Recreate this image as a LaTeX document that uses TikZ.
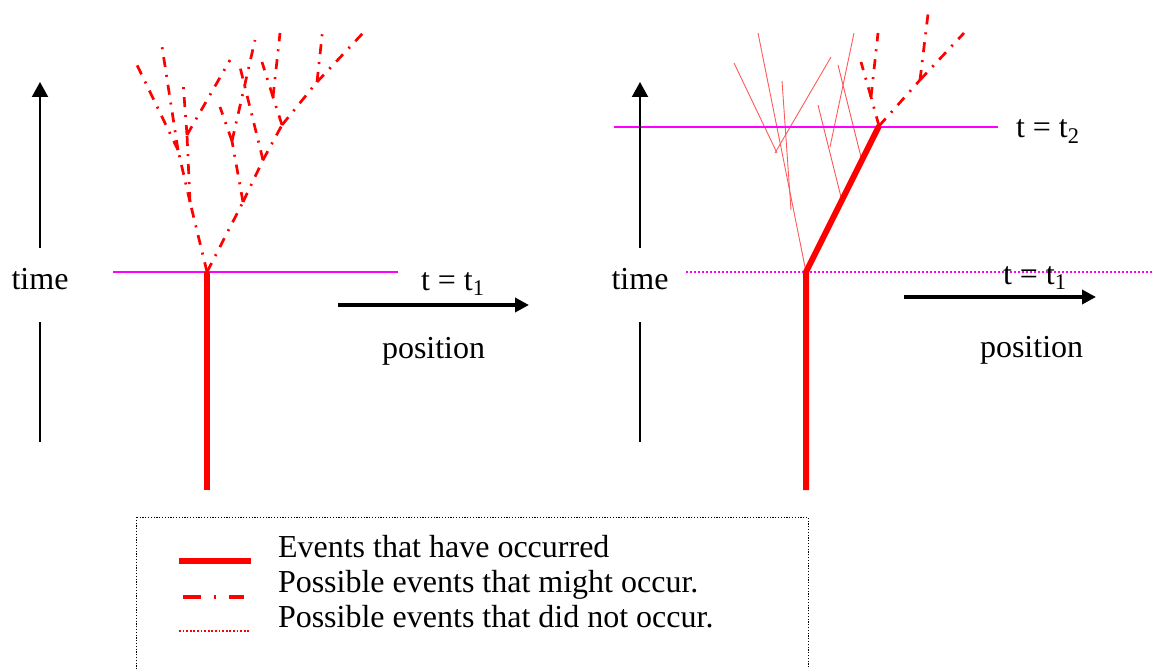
\documentclass[tikz,border=0pt]{standalone}
\usepackage{fontspec}
\setmainfont{Liberation Serif}
\usetikzlibrary{arrows.meta}
\definecolor{pureMagenta}{RGB}{255,0,255}
\definecolor{pureRed}{RGB}{255,0,0}
\begin{document}
\begin{tikzpicture}[x=0.5pt,y=-0.5pt,
  lbl/.style={inner sep=0pt, outer sep=0pt, font=\fontsize{16}{19}\selectfont},
  occurred/.style={draw=pureRed, line width=3pt},
  might/.style={draw=pureRed, line width=1.35pt, dash pattern=on 5pt off 4pt on 1pt off 4pt},
  mightlegend/.style={draw=pureRed, line width=1.7pt, dash pattern=on 9pt off 6.5pt on 1pt off 6.5pt},
  notocc/.style={draw=pureRed!65, line width=0.45pt},
  notocclegend/.style={draw=pureRed, line width=0.8pt, dash pattern=on 0.9pt off 0.9pt},
  axisline/.style={draw=black, line width=1pt},
  axisarrow/.style={draw=black, line width=1pt, -{Triangle[length=7.5pt,width=8pt]}},
  posarrow/.style={draw=black, line width=2pt, -{Triangle[length=7pt,width=7pt]}},
  nowline/.style={draw=pureMagenta, line width=1pt},
  pastline/.style={draw=pureMagenta, line width=0.9pt, dash pattern=on 1pt off 1pt},
  legbox/.style={draw=black, line width=0.5pt, dash pattern=on 0.6pt off 0.8pt},
]
\useasboundingbox (0,0) rectangle (1154,668);

% ---------- left diagram ----------
\coordinate (N1) at (113,272);
\coordinate (N2) at (398,272);
\draw[nowline] (N1) -- (N2);

\coordinate (R) at (207,272);
\coordinate (Rb) at (207,490);
\coordinate (Jc) at (190,202);
\coordinate (Ja) at (178,150);
\coordinate (Ja1) at (137,65);
\coordinate (Ja2) at (161,40);
\coordinate (Jb) at (187,135);
\coordinate (Jb1) at (183,82);
\coordinate (Jb2) at (230,60);
\coordinate (K1) at (243,202);
\coordinate (V) at (232,141);
\coordinate (V1) at (220,107);
\coordinate (V2) at (255,40);
\coordinate (K2) at (263,160);
\coordinate (K21) at (240,67);
\coordinate (K3) at (282,125);
\coordinate (K4) at (273,97);
\coordinate (K41) at (262,62);
\coordinate (K42) at (280,33);
\coordinate (K5) at (317,82);
\coordinate (K51) at (323,27);
\coordinate (K52) at (363,33);

\foreach \a/\b in {R/Jc, Jc/Ja, Ja/Ja1, Ja/Ja2, Jc/Jb, Jb/Jb1, Jb/Jb2,
                   R/K1, K1/V, V/V1, V/V2, K1/K2, K2/K21, K2/K3,
                   K3/K4, K4/K41, K4/K42, K3/K5, K5/K51, K5/K52}
  \draw[might] (\a) -- (\b);

\draw[occurred] (Rb) -- (R);

\coordinate (TA1) at (40,248);
\coordinate (TA2) at (40,82);
\coordinate (TB1) at (40,322);
\coordinate (TB2) at (40,442);
\draw[axisarrow] (TA1) -- (TA2);
\draw[axisline] (TB1) -- (TB2);
\node[lbl, anchor=base] (time1) at (40,289) {time};

\coordinate (PA1) at (338,305);
\coordinate (PA2) at (529,305);
\draw[posarrow] (PA1) -- (PA2);
\node[lbl, anchor=base west] (tt1a) at (421,290) {t = t\textsubscript{1}};
\node[lbl, anchor=base west] (pos1) at (382,358) {position};

% ---------- right diagram ----------
\coordinate (S) at (806,272);
\coordinate (Sb) at (806,490);
\coordinate (T) at (879,126);

\coordinate (A1) at (758,33);
\coordinate (B1) at (734,63);
\coordinate (B2) at (777,153);
\coordinate (C1) at (831,57);
\coordinate (C2) at (775,153);
\coordinate (D1) at (782,81);
\coordinate (D2) at (791,210);
\coordinate (E1) at (818,105);
\coordinate (E2) at (841,197);
\coordinate (F1) at (854,33);
\coordinate (F2) at (830,147);
\coordinate (G1) at (838,65);
\coordinate (G2) at (861,157);
\foreach \a/\b in {S/A1, B1/B2, C1/C2, D1/D2, E1/E2, F1/F2, G1/G2}
  \draw[notocc] (\a) -- (\b);

\coordinate (P1) at (614,127);
\coordinate (P2) at (998,127);
\draw[nowline] (P1) -- (P2);
\coordinate (Q1) at (686,272);
\coordinate (Q2) at (1154,272);
\draw[pastline] (Q1) -- (Q2);

\coordinate (M1) at (871,97);
\coordinate (M11) at (861,62);
\coordinate (M12) at (878,33);
\coordinate (M2) at (920,80);
\coordinate (M21) at (928,14);
\coordinate (M22) at (964,33);
\foreach \a/\b in {T/M1, M1/M11, M1/M12, T/M2, M2/M21, M2/M22}
  \draw[might] (\a) -- (\b);

\draw[occurred] (Sb) -- (S) -- (T);

\coordinate (UA1) at (640,248);
\coordinate (UA2) at (640,82);
\coordinate (UB1) at (640,322);
\coordinate (UB2) at (640,442);
\draw[axisarrow] (UA1) -- (UA2);
\draw[axisline] (UB1) -- (UB2);
\node[lbl, anchor=base] (time2) at (640,289) {time};

\coordinate (QA1) at (904,297);
\coordinate (QA2) at (1096,297);
\draw[posarrow] (QA1) -- (QA2);
\node[lbl, anchor=base west] (tt2) at (1016,138) {t = t\textsubscript{2}};
\node[lbl, anchor=base west] (tt1b) at (1003,284) {t = t\textsubscript{1}};
\node[lbl, anchor=base west] (pos2) at (980,357) {position};

% ---------- legend ----------
\draw[legbox] (136,517) rectangle (808,700);
\coordinate (L1a) at (179,561);
\coordinate (L1b) at (251,561);
\coordinate (L2a) at (183,597);
\coordinate (L2b) at (244,597);
\coordinate (L3a) at (179,631);
\coordinate (L3b) at (250,631);
\draw[occurred] (L1a) -- (L1b);
\draw[mightlegend] (L2a) -- (L2b);
\draw[notocclegend] (L3a) -- (L3b);
\node[lbl, anchor=base west] (leg1) at (278,557) {Events that have occurred};
\node[lbl, anchor=base west] (leg2) at (278,592) {Possible events that might occur.};
\node[lbl, anchor=base west] (leg3) at (278,627) {Possible events that did not occur.};
\end{tikzpicture}
\end{document}
